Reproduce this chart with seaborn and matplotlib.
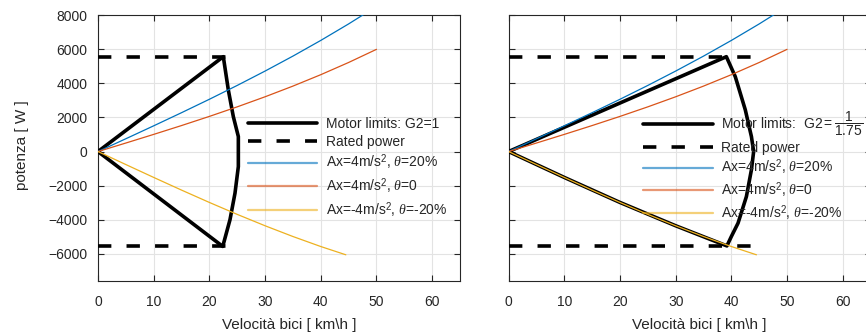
import matplotlib
matplotlib.use("Agg")
import matplotlib.pyplot as plt
import seaborn as sns
import pandas as pd

# ---------------- data ----------------
speed_up = [0, 5, 10, 15, 20, 25, 30, 35, 40, 45, 50]
p_acc_up20 = [0, 752, 1511, 2282, 3070, 3883, 4726, 5604, 6525, 7494, 8518]
p_acc_flat = [0, 501, 1008, 1527, 2064, 2625, 3216, 3843, 4513, 5230, 6001]
speed_down = [0, 5, 10, 15, 20, 25, 30, 35, 40, 44.5]
p_dec_down20 = [0, -763, -1519, -2263, -2988, -3689, -4357, -4988, -5576, -6061]

lim1_speed = [0, 22.5, 23.4, 24.3, 25.2, 25.2, 24.6, 23.7, 22.4, 0]
lim1_power = [0, 5570, 3620, 2050, 880, -880, -2440, -4000, -5570, 0]
lim2_speed = [0, 20, 39.1, 40.7, 42.5, 43.6, 44.0, 43.6, 42.7, 41.2, 40.0, 39.2, 30, 20, 10, 0]
lim2_power = [0, 2850, 5570, 4400, 2450, 880, 0, -1070, -2640, -4200, -4985, -5540,
              -4357, -2988, -1519, 0]

rated_power = 5550
rated_end = [25.2, 44.0]

labels_left = ["Motor limits: G2=1", "Rated power",
               r"Ax=4m/s$^2$, $\theta$=20%", r"Ax=4m/s$^2$, $\theta$=0",
               r"Ax=-4m/s$^2$, $\theta$=-20%"]
labels_right = [r"Motor limits:  $\mathrm{G2} = \dfrac{1}{1.75}$"] + labels_left[1:]

xticks = [0, 10, 20, 30, 40, 50, 60]
yticks = [-6000, -4000, -2000, 0, 2000, 4000, 6000, 8000]

# ---------------- style ----------------
sns.set_style("white")
plt.rcParams["font.family"] = ["Liberation Sans", "DejaVu Sans"]
plt.rcParams["mathtext.fontset"] = "custom"
plt.rcParams["mathtext.rm"] = "Liberation Sans"
plt.rcParams["mathtext.it"] = "Liberation Serif:italic"
plt.rcParams["mathtext.bf"] = "Liberation Sans:bold"

TXT = "#262626"
BLUE, ORANGE, YELLOW = "#0072BD", "#D95319", "#EDB120"

fig = plt.figure(figsize=(8.66, 3.36), dpi=100)
W, H = 866, 336
ax_w = 362 / W
ax_h = (281 - 15.3) / H
axes = [fig.add_axes([98 / W, 1 - 281 / H, ax_w, ax_h]),
        fig.add_axes([508.6 / W, 1 - 281 / H, ax_w, ax_h])]

limits = [(lim1_speed, lim1_power), (lim2_speed, lim2_power)]
leg_labels = [labels_left, labels_right]
leg_x = [(248 - 98) / 362, (643.3 - 508.6) / 362]
leg_y = [0.617, 0.645]
leg_sp = [0.27, 0.2]

for i, ax in enumerate(axes):
    ls, lp = limits[i]
    df_lim = pd.DataFrame({"v": ls, "p": lp})
    sns.lineplot(data=df_lim, x="v", y="p", sort=False, estimator=None, ax=ax,
                 color="black", lw=2.6, label="_a", zorder=3)
    for sgn in (1, -1):
        df_r = pd.DataFrame({"v": [0, rated_end[i]], "p": [sgn * rated_power] * 2})
        sns.lineplot(data=df_r, x="v", y="p", sort=False, estimator=None, ax=ax,
                     color="black", lw=2.6, label="_b", zorder=3)
    sns.lineplot(x=speed_up, y=p_acc_up20, sort=False, estimator=None, ax=ax,
                 color=BLUE, lw=0.9, label="_c", zorder=4)
    sns.lineplot(x=speed_up, y=p_acc_flat, sort=False, estimator=None, ax=ax,
                 color=ORANGE, lw=0.9, label="_d", zorder=4)
    sns.lineplot(x=speed_down, y=p_dec_down20, sort=False, estimator=None, ax=ax,
                 color=YELLOW, lw=0.9, label="_e", zorder=4)
    lines = ax.get_lines()
    lines[1].set_dashes([3.7, 4.2])
    lines[2].set_dashes([3.7, 4.2])
    handles = [lines[0], lines[1], lines[3], lines[4], lines[5]]

    ax.set_xlim(0, 65)
    ax.set_ylim(-7600, 8000)
    ax.set_xticks(xticks)
    ax.set_yticks(yticks)
    ax.grid(True, color="#e3e3e3", lw=0.8)
    ax.set_axisbelow(True)
    ax.tick_params(direction="in", length=4, width=0.8, color=TXT,
                   top=True, right=True, bottom=True, left=True,
                   labelsize=10, labelcolor=TXT)
    ax.tick_params(axis="x", pad=10)
    ax.tick_params(axis="y", pad=7.5)
    for s in ax.spines.values():
        s.set_color(TXT)
        s.set_linewidth(0.8)
    ax.set_xlabel("Velocità bici [ km\\h ]", fontsize=11, color=TXT)
    ax.xaxis.set_label_coords((289 - 98) / 362, -0.14)
    if i == 0:
        ax.set_ylabel("potenza [ W ]", fontsize=11, color=TXT)
        ax.yaxis.set_label_coords(-0.19, 0.51)
    else:
        ax.set_ylabel("")
        ax.tick_params(axis="y", labelleft=False)
    leg = ax.legend(handles, leg_labels[i], loc="upper left",
                    bbox_to_anchor=(leg_x[i], leg_y[i]), frameon=False, fontsize=10,
                    handlelength=5.0, handletextpad=0.6, labelspacing=leg_sp[i],
                    borderpad=0, borderaxespad=0)
    for h in leg.legend_handles[2:]:
        h.set_linewidth(1.6)
        h.set_alpha(0.6)

fig.savefig("out.png", dpi=100)
